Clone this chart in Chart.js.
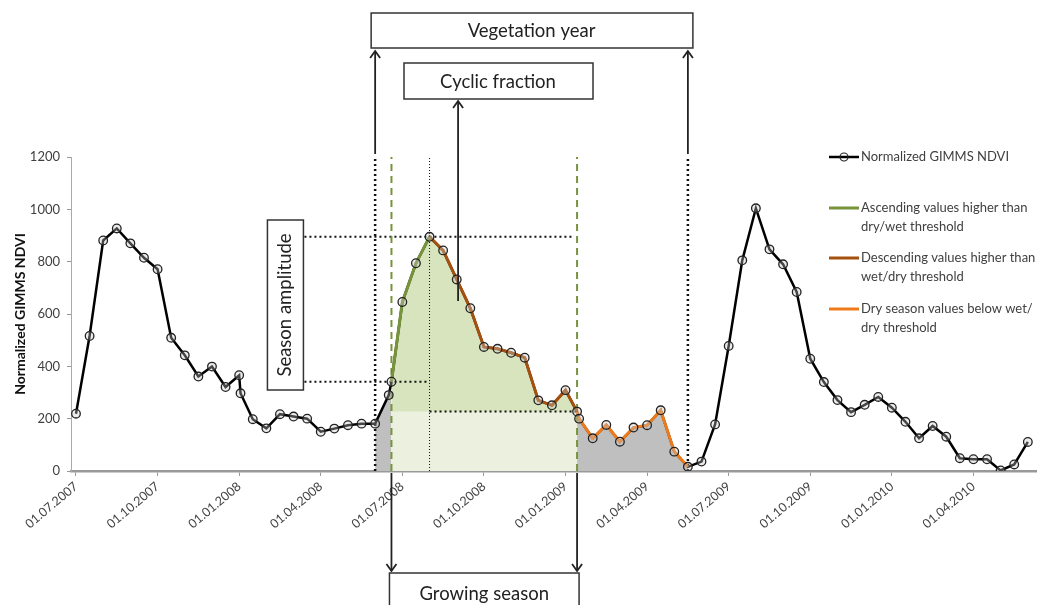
<!DOCTYPE html>
<html lang="en">
<head>
<meta charset="UTF-8">
<title>GIMMS NDVI vegetation season</title>
<script src="https://cdn.jsdelivr.net/npm/chart.js"></script>
<style>
  body { margin: 0; background: #fff; }
  .wrap { width: 1042px; height: 605px; position: relative; }
</style>
</head>
<body>
<div class="wrap"><canvas id="ndviChart"></canvas></div>
<script>
// x = half-month steps since 01.07.2007
const periods = [0, 1, 2, 3, 4, 5, 6, 7, 8, 9, 10, 11, 12, 12.1, 13, 14, 15, 16, 17, 18, 19, 20, 21, 22, 23, 23.2,
  24, 25, 26, 27, 28, 29, 30, 31, 32, 33, 34, 35, 36, 36.85, 37, 38, 39, 40, 41, 42, 43, 44, 45,
  46, 47, 48, 49, 50, 51, 52, 53, 54, 55, 56, 57, 58, 59, 60, 61, 62, 63, 64, 65, 66, 67, 68, 69, 70];
const ndvi = [219, 516, 881, 927, 870, 815, 771, 509, 442, 361, 399, 321, 366, 297, 198, 163, 217, 208, 200, 150, 162, 175, 181, 181, 290, 341,
  646, 794, 895, 843, 732, 622, 474, 467, 452, 433, 270, 251, 309, 227, 200, 125, 176, 112, 166, 175, 232, 74, 16,
  36, 178, 478, 805, 1004, 847, 790, 684, 429, 340, 271, 225, 253, 283, 242, 188, 125, 172, 131, 49, 45, 45, 2, 25, 111];

const tickSteps = [0, 6, 12, 18, 24, 30, 36, 42, 48, 54, 60, 66];
const tickLabels = ['01.07.2007', '01.10.2007', '01.01.2008', '01.04.2008', '01.07.2008', '01.10.2008',
  '01.01.2009', '01.04.2009', '01.07.2009', '01.10.2009', '01.01.2010', '01.04.2010'];

const vegStart = 22, vegEnd = 45;
const seasonStart = 23.2, seasonPeak = 26, seasonEnd = 36.85;
const peakValue = 895, dryWetThreshold = 341, wetDryThreshold = 227;
const amplitudeFrom = 16.8, peakLineTo = 36.5;
const cyclicArrowAt = 28.1, cyclicArrowFrom = 650;

const legendLabels = [
  ['Normalized GIMMS NDVI'],
  ['Ascending values higher than', 'dry/wet threshold'],
  ['Descending values higher than', 'wet/dry threshold'],
  ['Dry season values below wet/', 'dry threshold']
];

const GREEN = '#77933C', BROWN = '#A5500F', ORANGE = '#EE7A1A';
const FONT = 'Lato, "Open Sans", sans-serif';

function pts(from, to) {
  const out = [];
  periods.forEach((p, i) => { if (p >= from && p <= to) out.push({x: p, y: ndvi[i]}); });
  return out;
}
const allPts = pts(-1, 999);

function vline(x, color, width, dash, order) {
  return { data: [{x: x, y: 0}, {x: x, y: 1200}], borderColor: color, borderWidth: width,
    borderDash: dash, pointRadius: 0, fill: false, order: order, clip: false };
}
function hline(x1, x2, y, order) {
  return { data: [{x: x1, y: y}, {x: x2, y: y}], borderColor: '#111', borderWidth: 2,
    borderDash: [2, 3], pointRadius: 0, fill: false, order: order };
}

const annotations = {
  id: 'annotations',
  afterDraw(chart) {
    const ctx = chart.ctx;
    const xs = v => chart.scales.x.getPixelForValue(v);
    const ys = v => chart.scales.y.getPixelForValue(v);
    ctx.save();

    function box(x1, y1, x2, y2) {
      ctx.fillStyle = '#fff';
      ctx.fillRect(x1, y1, x2 - x1, y2 - y1);
      ctx.strokeStyle = '#333'; ctx.lineWidth = 1.5; ctx.setLineDash([]);
      ctx.strokeRect(x1, y1, x2 - x1, y2 - y1);
    }
    function label(t, x, y, size, rot) {
      ctx.save();
      ctx.translate(x, y); if (rot) ctx.rotate(rot);
      ctx.fillStyle = '#222'; ctx.font = size + 'px ' + FONT;
      ctx.textAlign = 'center'; ctx.textBaseline = 'middle';
      ctx.fillText(t, 0, 0);
      ctx.restore();
    }
    function arrow(x, y1, y2) {
      ctx.strokeStyle = '#222'; ctx.lineWidth = 1.8; ctx.setLineDash([]);
      ctx.beginPath(); ctx.moveTo(x, y1); ctx.lineTo(x, y2); ctx.stroke();
      const d = y2 < y1 ? 1 : -1;
      ctx.beginPath(); ctx.moveTo(x - 5, y2 + d * 7); ctx.lineTo(x, y2); ctx.lineTo(x + 5, y2 + d * 7); ctx.stroke();
    }

    // vegetation year
    const v1 = xs(vegStart), v2 = xs(vegEnd);
    arrow(v1, ys(1200) - 3, 51);
    arrow(v2, ys(1200) - 3, 51);
    box(v1 - 4, 13, v2 + 5, 48);
    label('Vegetation year', (v1 + v2) / 2, 31, 18.5);

    // cyclic fraction
    const cx = xs(cyclicArrowAt);
    arrow(cx, ys(cyclicArrowFrom), 101);
    box(404, 63, 593, 99);
    label('Cyclic fraction', 498, 82, 18.5);

    // season amplitude
    const ax = xs(amplitudeFrom);
    box(ax - 37, 220, ax - 1, 390);
    label('Season amplitude', ax - 19, 305, 18.5, -Math.PI / 2);

    // growing season
    const g1 = xs(seasonStart), g2 = xs(seasonEnd);
    arrow(g1, ys(0) + 2, 571);
    arrow(g2, ys(0) + 2, 571);
    box(g1 - 2, 573, g2 + 2, 612);
    label('Growing season', (g1 + g2) / 2, 594, 18.5);

    // legend
    const colors = ['#000', GREEN, BROWN, ORANGE];
    const rows = [157, 208, 258, 309];
    legendLabels.forEach((lines, i) => {
      const y = rows[i];
      ctx.strokeStyle = colors[i]; ctx.lineWidth = i === 0 ? 2.5 : 3;
      ctx.beginPath(); ctx.moveTo(829, y); ctx.lineTo(859, y); ctx.stroke();
      if (i === 0) {
        ctx.lineWidth = 1.2; ctx.strokeStyle = '#222';
        ctx.beginPath(); ctx.arc(844, y, 4, 0, Math.PI * 2); ctx.stroke();
      }
      ctx.fillStyle = '#404040'; ctx.font = '13px ' + FONT;
      ctx.textAlign = 'left'; ctx.textBaseline = 'middle';
      lines.forEach((t, j) => ctx.fillText(t, 861, y + j * 18.5));
    });
    ctx.restore();
  }
};

new Chart(document.getElementById('ndviChart'), {
  type: 'line',
  data: {
    datasets: [
      // markers on top
      { data: allPts, showLine: false, pointRadius: 4.3, pointBorderWidth: 1.3,
        pointBorderColor: '#222', pointBackgroundColor: 'rgba(200,200,200,0.35)', order: 0 },
      { data: pts(seasonStart, seasonPeak), borderColor: GREEN, borderWidth: 3, pointRadius: 0, order: 1 },
      { data: pts(seasonPeak, seasonEnd), borderColor: BROWN, borderWidth: 3, pointRadius: 0, order: 1 },
      { data: pts(seasonEnd, vegEnd), borderColor: ORANGE, borderWidth: 3, pointRadius: 0, order: 1 },
      { data: allPts, borderColor: '#000', borderWidth: 2.5, pointRadius: 0, order: 2 },
      vline(vegStart, '#111', 2.5, [2, 3], 3),
      vline(vegEnd, '#111', 2.5, [2, 3], 3),
      vline(seasonPeak, '#111', 1, [1, 2], 3),
      vline(seasonStart, GREEN, 2, [7, 5], 3),
      vline(seasonEnd, GREEN, 2, [7, 5], 3),
      hline(amplitudeFrom, peakLineTo, peakValue, 3),
      hline(amplitudeFrom, seasonPeak, dryWetThreshold, 3),
      hline(seasonPeak, seasonEnd, wetDryThreshold, 3),
      // fills
      { data: [{x: seasonStart, y: dryWetThreshold}, {x: seasonPeak, y: wetDryThreshold}, {x: seasonEnd, y: wetDryThreshold}],
        stepped: 'after', borderWidth: 0, pointRadius: 0, fill: 'origin', backgroundColor: '#EBF1DE', order: 4 },
      { data: pts(seasonStart, seasonEnd), borderWidth: 0, pointRadius: 0, fill: 'origin', backgroundColor: '#D7E4BD', order: 5 },
      { data: pts(vegStart, seasonStart), borderWidth: 0, pointRadius: 0, fill: 'origin', backgroundColor: '#BFBFBF', order: 5 },
      { data: pts(seasonEnd, vegEnd), borderWidth: 0, pointRadius: 0, fill: 'origin', backgroundColor: '#BFBFBF', order: 5 }
    ]
  },
  options: {
    responsive: true,
    maintainAspectRatio: false,
    animation: false,
    events: [],
    layout: { padding: { top: 157, right: 4, left: 0, bottom: 0 } },
    plugins: { legend: { display: false }, tooltip: { enabled: false } },
    scales: {
      x: {
        type: 'linear',
        min: -0.367,
        max: 70.63,
        afterBuildTicks: s => { s.ticks = tickSteps.map(v => ({ value: v })); },
        afterFit: s => { s.height = 134; },
        ticks: {
          autoSkip: false, minRotation: 40, maxRotation: 40, padding: 3,
          color: '#404040', font: { family: FONT, size: 12.5 },
          callback: (v, i) => tickLabels[i]
        },
        grid: { drawOnChartArea: false, tickLength: 5, color: '#999' },
        border: { color: '#999', width: 2.5 }
      },
      y: {
        min: 0,
        max: 1200,
        afterFit: s => { s.width = 71; },
        ticks: { stepSize: 200, padding: 7, color: '#404040', font: { family: FONT, size: 13 },
          callback: v => String(v) },
        grid: { drawOnChartArea: false, tickLength: 4, color: '#999' },
        border: { color: '#aaa', width: 1 },
        title: { display: true, text: 'Normalized GIMMS NDVI', color: '#111',
          font: { family: FONT, size: 14, weight: 'bold' }, padding: { top: 12, bottom: 0 } }
      }
    }
  },
  plugins: [annotations]
});
</script>
</body>
</html>
